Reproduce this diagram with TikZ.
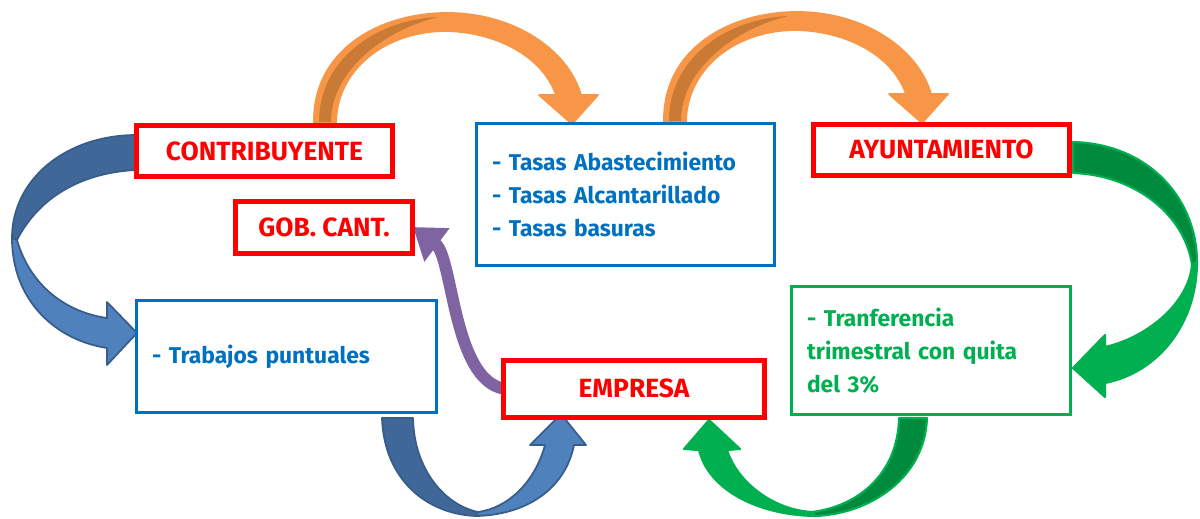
\documentclass[tikz,border=0pt]{standalone}
\usepackage{fontspec}
\setmainfont{Fira Sans}
\usetikzlibrary{arrows.meta, backgrounds}
\definecolor{dgRed}{HTML}{FF0000}
\definecolor{dgBlue}{HTML}{0070C0}
\definecolor{dgGreen}{HTML}{00B050}
\definecolor{dgGreenDk}{HTML}{008A3E}
\definecolor{dgOrange}{HTML}{F79646}
\definecolor{dgOrangeDk}{HTML}{C97A35}
\definecolor{dgSteel}{HTML}{4F81BD}
\definecolor{dgSteelDk}{HTML}{3F6797}
\definecolor{dgSteelLn}{HTML}{385D8A}
\definecolor{dgPurple}{HTML}{8064A2}
\tikzset{
  dgnode/.style={draw, outer sep=0pt, fill=white},
  actor/.style={dgnode, draw=dgRed, text=dgRed, line width=0.1cm,
    font=\fontsize{15}{18}\selectfont\bfseries},
  concept/.style={dgnode, draw=dgBlue, text=dgBlue, line width=0.06cm,
    align=left, inner sep=0.32cm, font=\fontsize{13}{18.8}\selectfont\bfseries},
  transfer/.style={concept, draw=dgGreen, text=dgGreen},
  ribbonor/.style={fill=dgOrange, draw=dgOrange, line width=1pt, line join=round},
  ribbonordk/.style={fill=dgOrangeDk},
  ribbonbl/.style={fill=dgSteel, draw=dgSteelLn, line width=1pt, line join=round},
  ribbonbldk/.style={ribbonbl, fill=dgSteelDk},
  ribbongn/.style={fill=dgGreen, draw=dgGreen, line width=1.2pt, line join=round},
  ribbongndk/.style={ribbongn, fill=dgGreenDk},
  linkarrow/.style={draw=dgPurple, line width=0.24cm,
    -{Triangle[length=0.6cm, width=0.8cm]}}
}
\begin{document}
\begin{tikzpicture}[x=0.02cm, y=-0.02cm]
  \useasboundingbox (0,0) rectangle (1200,518);
  % orange ribbons on top
  \foreach \dx/\dy in {0/0, 350/-1}{
    \begin{scope}[shift={(\dx,\dy)}]
      \filldraw[ribbonor] (314,124) .. controls (312,50) and (380,12) .. (450,13)
        .. controls (515,14) and (568,50) .. (581,95)
        -- (598,95) -- (572,124) -- (539,95) -- (556,95)
        .. controls (542,55) and (495,32) .. (446,31)
        .. controls (385,31) and (336,70) .. (336,124) -- cycle;
      \fill[ribbonordk] (319,122) .. controls (319,60) and (375,20) .. (438,17)
        .. controls (385,30) and (331,70) .. (331,122) -- cycle;
    \end{scope}
  }
  % blue ribbon, left
  \filldraw[ribbonbldk] (137,135) .. controls (65,135) and (12,180) .. (12,238)
    -- (17,240) .. controls (40,195) and (85,172) .. (137,170) -- cycle;
  \filldraw[ribbonbl] (12,238) .. controls (12,300) and (55,340) .. (107,348)
    -- (107,365) -- (137,333) -- (107,302) -- (107,318)
    .. controls (65,312) and (30,285) .. (17,240) -- cycle;
  % blue ribbon, bottom
  \filldraw[ribbonbldk] (382,418) .. controls (384,478) and (425,514) .. (476,516)
    -- (478,512) .. controls (445,505) and (414,470) .. (413,418) -- cycle;
  \filldraw[ribbonbl] (476,516) .. controls (525,515) and (565,490) .. (574,445)
    -- (586,445) -- (561,414) -- (530,445) -- (545,445)
    .. controls (535,482) and (508,508) .. (478,512) -- cycle;
  % green ribbon, right
  \filldraw[ribbongndk] (1073,142) .. controls (1150,144) and (1197,200) .. (1197,262)
    -- (1192,265) .. controls (1185,215) and (1135,175) .. (1073,173) -- cycle;
  \filldraw[ribbongn] (1197,262) .. controls (1197,322) and (1160,372) .. (1105,383)
    -- (1105,397) -- (1073,368) -- (1105,335) -- (1105,347)
    .. controls (1145,338) and (1188,305) .. (1192,265) -- cycle;
  % green ribbon, bottom
  \filldraw[ribbongndk] (927,418) .. controls (925,478) and (870,514) .. (815,516)
    -- (812,512) .. controls (860,506) and (898,472) .. (899,418) -- cycle;
  \filldraw[ribbongn] (815,516) .. controls (755,515) and (708,488) .. (699,450)
    -- (684,449) -- (709,420) -- (740,449) -- (727,450)
    .. controls (738,484) and (775,510) .. (812,512) -- cycle;

  % boxes
  \node[actor, minimum width=5.12cm, minimum height=1.02cm] (contrib) at (264.5,151) {CONTRIBUYENTE};
  \node[actor, minimum width=3.56cm, minimum height=1.04cm] (gob) at (324,227) {GOB. CANT.};
  \node[actor, minimum width=5.14cm, minimum height=1.02cm] (ayunt) at (941.5,149.5) {AYUNTAMIENTO};
  \node[actor, minimum width=5.24cm, minimum height=1.14cm] (empresa) at (634,388.5) {EMPRESA};
  \node[concept, text width=5.34cm, minimum height=2.86cm] (tasas) at (625.5,194.5)
    {- Tasas Abastecimiento\\- Tasas Alcantarillado\\- Tasas basuras};
  \node[concept, text width=5.38cm, minimum height=2.26cm] (trabajos) at (286.5,356.5)
    {- Trabajos puntuales};
  \node[transfer, text width=4.96cm, minimum height=2.58cm] (transf) at (931,350.5)
    {- Tranferencia\\trimestral con quita\\del 3\%};

  \begin{scope}[on background layer]
    \draw[linkarrow] (empresa.west) .. controls +(-50,-10) and +(40,30) .. (gob.east);
  \end{scope}
\end{tikzpicture}
\end{document}
